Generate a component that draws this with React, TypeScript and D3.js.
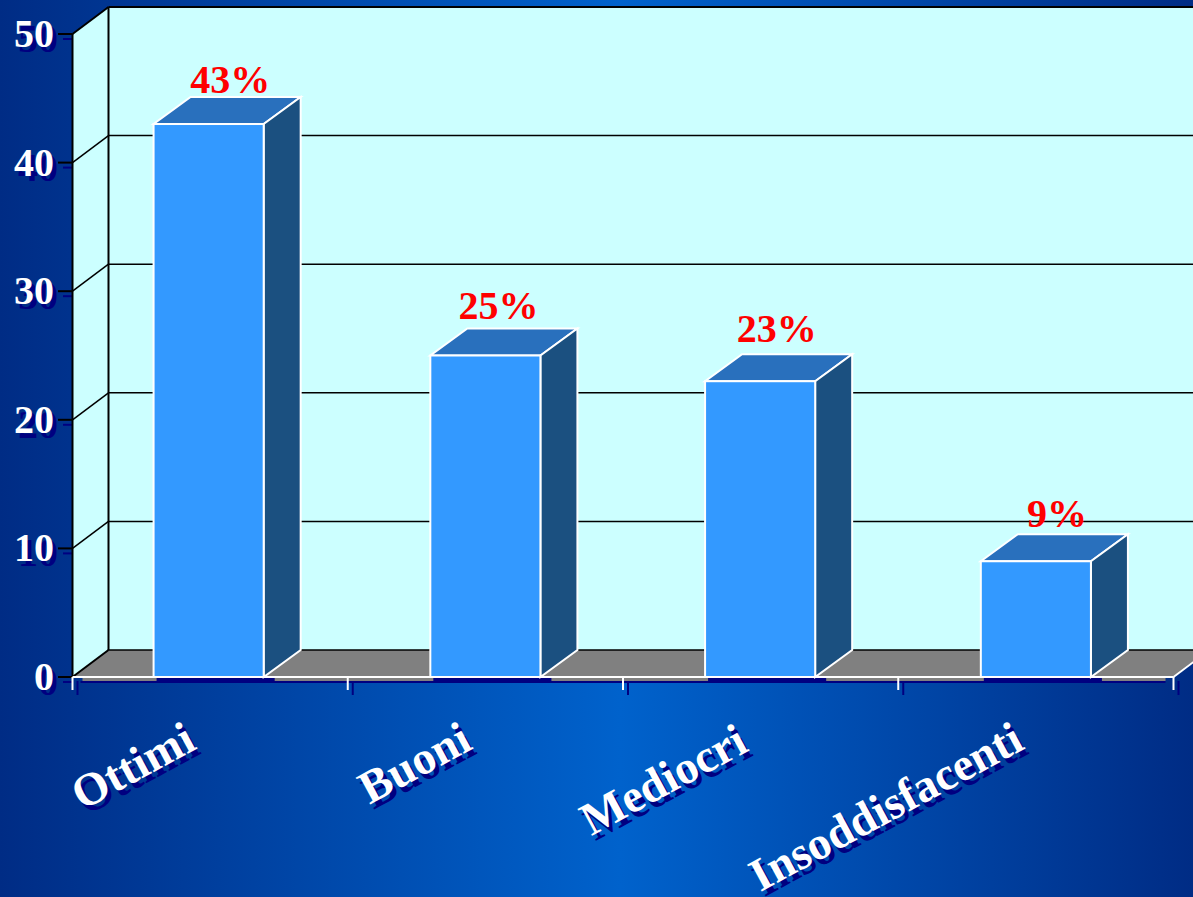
import React from "react";
import * as d3 from "d3";

const categories = ["Ottimi", "Buoni", "Mediocri", "Insoddisfacenti"];
const values = [43, 25, 23, 9];
const valueLabels = ["43%", "25%", "23%", "9%"];
const yTicks = [0, 10, 20, 30, 40, 50];

const W = 1193;
const H = 897;
const DX = 36;
const DY = -27;
const BAR_DX = 37;
const FONT = "'Liberation Serif', 'Times New Roman', serif";

const x = d3.scaleBand<string>().domain(categories).range([72.5, 1173.5]).paddingInner(0.6).paddingOuter(0.3);
const y = d3.scaleLinear().domain([0, 50]).range([677, 34]);

const pts = (p: [number, number][]) => p.map((q) => q.join(",")).join(" ");

// Text with a dark copy offset behind it, used for all the axis labels.
function Shadowed({ tx, ty, size, anchor, rotate, children }: any) {
  const tr = (ox: number, oy: number) => `translate(${tx + ox},${ty + oy}) rotate(${rotate || 0})`;
  const common = { fontFamily: FONT, fontWeight: 700, fontSize: size, textAnchor: anchor };
  return (
    <g>
      <text {...common} transform={tr(4, 5)} fill="#000080">{children}</text>
      <text {...common} transform={tr(0, 0)} fill="#ffffff">{children}</text>
    </g>
  );
}

export default function App() {
  const y0 = y(0);
  const x0 = x.range()[0];
  const x1 = x.range()[1];
  const step = x.step();
  const xTicks = d3.range(categories.length + 1).map((i) => x0 + i * step);
  const labelAnchors = [198, 474, 750, 1026];
  const labelBaselines = [748, 748, 750, 748];
  const barShift = [-1.5, 0, -0.5, 0];
  const valueShiftX = [2, -5, -2, 3];
  const valueShiftY = [-2, -8, -10, -5];

  return (
    <svg width={W} height={H} viewBox={`0 0 ${W} ${H}`} style={{ position: "absolute", left: 0, top: 0, display: "block" }}>
      <defs>
        <linearGradient id="slideBg" x1="0" x2="1" y1="0" y2="0">
          <stop offset="0" stopColor="#002c85" />
          <stop offset="0.52" stopColor="#0062cc" />
          <stop offset="1" stopColor="#002c85" />
        </linearGradient>
      </defs>
      <rect width={W} height={H} fill="url(#slideBg)" />

      {/* axis shadows */}
      <line x1={x0 + 8} x2={x1 - 8} y1={y0 + 5} y2={y0 + 5} stroke="#000080" strokeWidth={2} />
      <polygon points={pts([[x0 + 10, y0 + 1], [x1 - 8, y0 + 1], [x1 - 8, y0 + 4], [x0 + 10, y0 + 4]])} fill="#808080" />
      {xTicks.map((t) => (
        <line key={t} x1={t + 5} x2={t + 5} y1={y0 + 4} y2={y0 + 18} stroke="#000080" strokeWidth={2} />
      ))}
      {yTicks.map((t) => (
        <line key={t} x1={63} x2={x0} y1={y(t) + 5} y2={y(t) + 5} stroke="#000080" strokeWidth={2} />
      ))}

      {/* side wall, back wall and floor */}
      <polygon points={pts([[x0, y(0)], [x0, y(50)], [x0 + DX, y(50) + DY], [x0 + DX, y(0) + DY]])} fill="#ccffff" />
      <rect x={x0 + DX} y={y(50) + DY} width={W} height={y(0) - y(50)} fill="#ccffff" />
      <polygon points={pts([[x0, y0], [x1, y0], [x1 + DX, y0 + DY], [x0 + DX, y0 + DY]])} fill="#808080" />

      {/* gridlines */}
      {yTicks.map((t) => (
        <g key={t} stroke="#000000" fill="none">
          <line x1={58} x2={x0} y1={y(t)} y2={y(t)} strokeWidth={2} />
          <line x1={x0} x2={x0 + DX} y1={y(t)} y2={y(t) + DY} strokeWidth={t === 50 || t === 0 ? 2 : 1.5} />
          <line x1={x0 + DX} x2={W} y1={y(t) + DY} y2={y(t) + DY} strokeWidth={t === 50 ? 2 : 1.5} />
        </g>
      ))}
      <line x1={x0} x2={x0} y1={y(50)} y2={y0} stroke="#000" strokeWidth={2} />
      <line x1={x0 + DX} x2={x0 + DX} y1={y(50) + DY} y2={y0 + DY} stroke="#000" strokeWidth={2} />

      {/* front edge of the floor and category ticks */}
      <line x1={x0} x2={x1} y1={y0} y2={y0} stroke="#ffffff" strokeWidth={2} />
      <line x1={x1} x2={x1 + DX} y1={y0} y2={y0 + DY} stroke="#ffffff" strokeWidth={2} />
      {xTicks.map((t) => (
        <line key={t} x1={t} x2={t} y1={y0} y2={y0 + 13} stroke="#ffffff" strokeWidth={2} />
      ))}

      {/* bars */}
      {categories.map((c, i) => {
        const bx = (x(c) as number) + barShift[i];
        const bw = x.bandwidth();
        const top = y(values[i]);
        return (
          <g key={c} stroke="#ffffff" strokeWidth={2} strokeLinejoin="miter">
            <rect x={bx + 3} y={y0 + 1} width={bw + 8} height={5} fill="#000080" stroke="none" />
            <polygon points={pts([[bx, top], [bx + bw, top], [bx + bw + BAR_DX, top + DY], [bx + BAR_DX, top + DY]])} fill="#2970bd" />
            <polygon points={pts([[bx + bw, top], [bx + bw + BAR_DX, top + DY], [bx + bw + BAR_DX, y0 + DY], [bx + bw, y0]])} fill="#1b5080" />
            <rect x={bx} y={top} width={bw} height={y0 - top} fill="#3399ff" />
          </g>
        );
      })}

      {/* value labels */}
      {categories.map((c, i) => (
        <text
          key={c}
          x={(x(c) as number) + x.bandwidth() / 2 + 18 + valueShiftX[i]}
          y={y(values[i]) + DY - 2 + valueShiftY[i]}
          textAnchor="middle"
          fontFamily={FONT}
          fontWeight={700}
          fontSize={40}
          fill="#ff0000"
        >
          {valueLabels[i]}
        </text>
      ))}

      {/* y axis labels */}
      {yTicks.map((t) => (
        <Shadowed key={t} tx={54} ty={y(t) + 13} size={40} anchor="end">{String(t)}</Shadowed>
      ))}

      {/* category labels */}
      {categories.map((c, i) => (
        <Shadowed key={c} tx={labelAnchors[i]} ty={labelBaselines[i]} size={46.5} anchor="end" rotate={-28.5}>{c}</Shadowed>
      ))}
    </svg>
  );
}
